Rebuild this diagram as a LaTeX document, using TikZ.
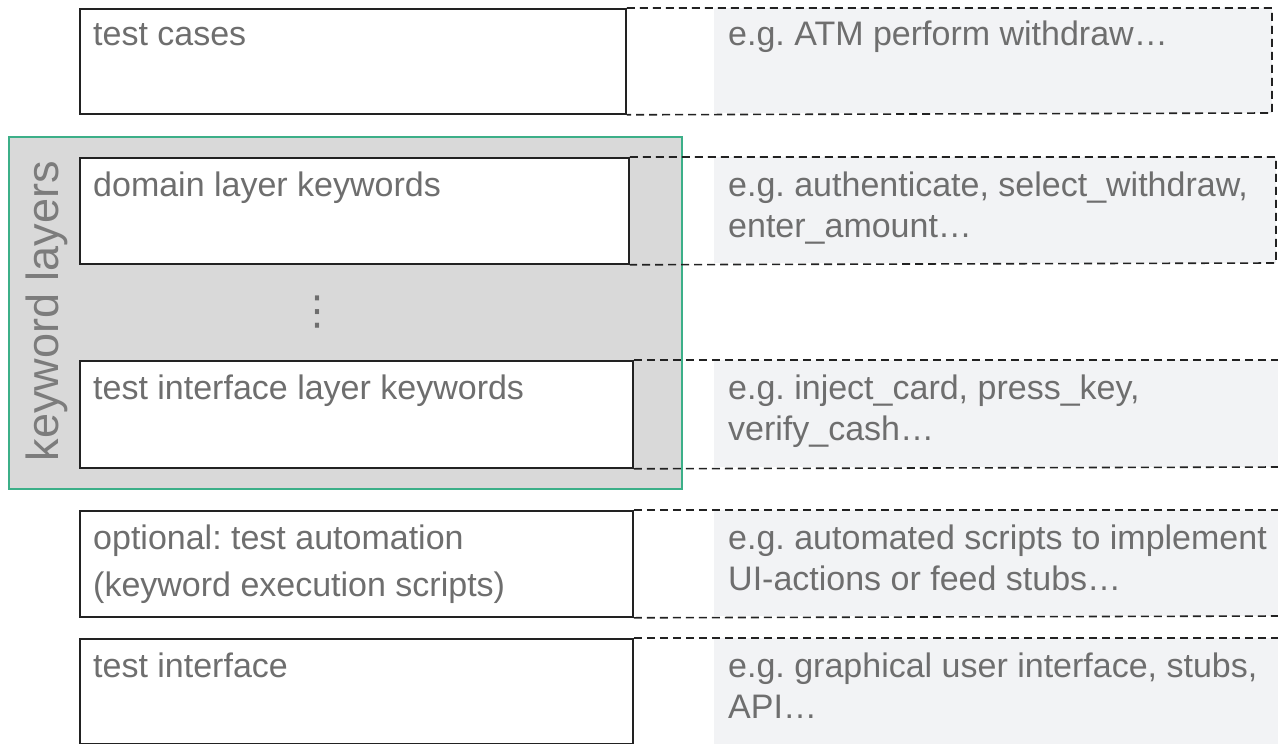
\documentclass[tikz,border=0pt]{standalone}
\usepackage{fontspec}
\setmainfont{Liberation Sans}
\newfontfamily\symfont{DejaVu Sans}
\definecolor{txtgray}{HTML}{6E6E6E}
\definecolor{kwgray}{HTML}{7C7C7C}
\definecolor{kwfill}{HTML}{D9D9D9}
\definecolor{kwgreen}{HTML}{3CAF88}
\definecolor{exfill}{HTML}{F2F3F5}
\definecolor{linecol}{HTML}{222222}
\frenchspacing
\begin{document}
\begin{tikzpicture}[x=1bp,y=-1bp,
  solidbox/.style={draw=linecol, line width=1.8bp, fill=white, anchor=north west, inner sep=0pt},
  exbox/.style={fill=exfill, anchor=north west, inner sep=0pt},
  dashline/.style={draw=linecol, line width=1.6bp, dash pattern=on 8bp off 5bp},
  kwbox/.style={draw=kwgreen, line width=1.8bp, fill=kwfill, anchor=north west, inner sep=0pt},
  lbl/.style={font=\fontsize{34bp}{47bp}\selectfont, text=txtgray, anchor=base west, inner sep=0pt, align=left},
  exlbl/.style={font=\fontsize{34bp}{41bp}\selectfont, text=txtgray, anchor=base west, inner sep=0pt, align=left}
]
\useasboundingbox (0,0) rectangle (1278,744);

% keyword layers group
\node[kwbox, minimum width=673bp, minimum height=352bp] (kw) at (8,136) {};
\node[font=\fontsize{45bp}{54bp}\selectfont, text=kwgray, rotate=90, anchor=base, inner sep=0pt] (kwlabel) at (58,311) {keyword layers};
\node[text=txtgray, font=\symfont\fontsize{40bp}{40bp}\selectfont, anchor=center, inner sep=0pt] (dots) at (317,312) {⋮};

% example fills
\node[exbox, minimum width=558bp, minimum height=105bp] (f1) at (714,8) {};
\node[exbox, minimum width=562bp, minimum height=106bp] (f2) at (714,157) {};
\node[exbox, minimum width=566bp, minimum height=107bp] (f3) at (714,360) {};
\node[exbox, minimum width=566bp, minimum height=106bp] (f4) at (714,510) {};
\node[exbox, minimum width=566bp, minimum height=106bp] (f5) at (714,638) {};

% left solid boxes
\node[solidbox, minimum width=546bp, minimum height=105bp] (b1) at (79,8) {};
\node[solidbox, minimum width=549bp, minimum height=106bp] (b2) at (79,157) {};
\node[solidbox, minimum width=553bp, minimum height=107bp] (b3) at (79,360) {};
\node[solidbox, minimum width=553bp, minimum height=106bp] (b4) at (79,510) {};
\node[solidbox, minimum width=553bp, minimum height=105bp] (b5) at (79,638) {};

% dashed extensions
\coordinate (r1t) at (1272,8);   \coordinate (r1b) at (1272,113);
\coordinate (r2t) at (1276,157); \coordinate (r2b) at (1276,263);
\coordinate (r3t) at (1282,360); \coordinate (r3b) at (1282,467);
\coordinate (r4t) at (1282,510); \coordinate (r4b) at (1282,616);
\coordinate (r5t) at (1282,638); \coordinate (r5b) at (1282,743);
\draw[dashline] (b1.north east) -- (r1t) -- (r1b) -- (b1.south east);
\draw[dashline] (b2.north east) -- (r2t) -- (r2b) -- (b2.south east);
\draw[dashline] (b3.north east) -- (r3t);
\draw[dashline] (b3.south east) -- (r3b);
\draw[dashline] (b4.north east) -- (r4t);
\draw[dashline] (b4.south east) -- (r4b);
\draw[dashline] (b5.north east) -- (r5t);

% labels (base anchor = baseline of the last line)
\node[lbl] (t1) at (93,46) {test cases};
\node[lbl] (t2) at (93,196) {domain layer keywords};
\node[lbl] (t3) at (93,399) {test interface layer keywords};
\node[lbl] (t4) at (93,596) {optional: test automation\\(keyword execution scripts)};
\node[lbl] (t5) at (93,677) {test interface};

\node[exlbl] (e1) at (728,46) {e.g. ATM perform withdraw…};
\node[exlbl] (e2) at (728,237) {e.g. authenticate, select\_withdraw,\\enter\_amount…};
\node[exlbl] (e3) at (728,440) {e.g. inject\_card, press\_key,\\verify\_cash…};
\node[exlbl] (e4) at (728,590) {e.g. automated scripts to implement\\UI-actions or feed stubs…};
\node[exlbl] (e5) at (728,718) {e.g. graphical user interface, stubs,\\API…};
\end{tikzpicture}
\end{document}
